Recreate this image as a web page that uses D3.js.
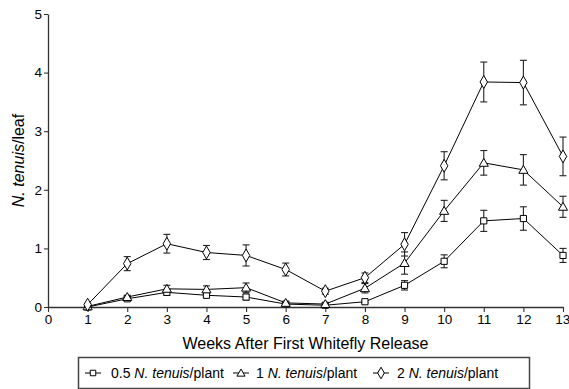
<!DOCTYPE html>
<html>
<head>
<meta charset="utf-8">
<script src="https://cdn.jsdelivr.net/npm/d3@7"></script>
<style>
  html, body { margin: 0; padding: 0; background: #fff; }
  svg { display: block; font-family: Arial, "Liberation Sans", sans-serif; }
</style>
</head>
<body>
<svg id="chart" width="569" height="389"></svg>
<script>
// Weeks after first whitefly release
const weeks = [1, 2, 3, 4, 5, 6, 7, 8, 9, 10, 11, 12, 13];

// Mean N. tenuis per leaf and standard error, by release density
const low = [0.00, 0.14, 0.25, 0.20, 0.17, 0.05, 0.03, 0.09, 0.37, 0.78, 1.47, 1.51, 0.88];
const lowErr = [0.01, 0.03, 0.05, 0.04, 0.05, 0.02, 0.02, 0.02, 0.08, 0.11, 0.18, 0.20, 0.12];
const mid = [0.01, 0.17, 0.31, 0.30, 0.33, 0.07, 0.05, 0.32, 0.75, 1.64, 2.46, 2.34, 1.71];
const midErr = [0.01, 0.03, 0.06, 0.06, 0.08, 0.02, 0.02, 0.08, 0.19, 0.18, 0.21, 0.26, 0.18];
const high = [0.04, 0.74, 1.08, 0.93, 0.88, 0.64, 0.27, 0.50, 1.07, 2.41, 3.84, 3.83, 2.57];
const highErr = [0.02, 0.12, 0.16, 0.12, 0.18, 0.11, 0.05, 0.08, 0.20, 0.24, 0.34, 0.38, 0.33];

const xTicks = [0, 1, 2, 3, 4, 5, 6, 7, 8, 9, 10, 11, 12, 13];
const yTicks = [0, 1, 2, 3, 4, 5];

const seriesNames = ["0.5", "1", "2"];
const seriesShapes = [d3.symbolSquare, d3.symbolTriangle, d3.symbolDiamond];
const seriesSizes = [38, 36, 48];

const series = [
  { name: seriesNames[0], values: low, errs: lowErr, shape: seriesShapes[0], size: seriesSizes[0] },
  { name: seriesNames[1], values: mid, errs: midErr, shape: seriesShapes[1], size: seriesSizes[1] },
  { name: seriesNames[2], values: high, errs: highErr, shape: seriesShapes[2], size: seriesSizes[2] }
];

const svg = d3.select("#chart");
const x = d3.scaleLinear().domain([0, 13]).range([48, 563]);
const y = d3.scaleLinear().domain([0, 5]).range([307, 14]);

// Axes
const xAxis = svg.append("g")
  .attr("transform", `translate(0,${y(0)})`)
  .call(d3.axisBottom(x).tickValues(xTicks).tickFormat(d3.format("d")).tickSize(5).tickSizeOuter(0).tickPadding(2));
const yAxis = svg.append("g")
  .attr("transform", `translate(${x(0)},0)`)
  .call(d3.axisLeft(y).tickValues(yTicks).tickFormat(d3.format("d")).tickSize(4).tickSizeOuter(0).tickPadding(2));

[xAxis, yAxis].forEach(a => {
  a.selectAll("path.domain").attr("stroke", "#333").attr("stroke-width", 1.3);
  a.selectAll(".tick line").attr("stroke", "#333").attr("stroke-width", 1.1);
  a.selectAll(".tick text").attr("fill", "#000").style("font-size", "13.5px")
    .style("font-family", "Arial, 'Liberation Sans', sans-serif");
});
// keep the last week label inside the frame
xAxis.selectAll(".tick text").filter(d => d === 13).attr("text-anchor", "end").attr("dx", "0.5em");

// Axis titles
svg.append("text")
  .attr("x", (x(0) + x(13)) / 2)
  .attr("y", 349)
  .attr("text-anchor", "middle")
  .style("font-size", "16px")
  .text("Weeks After First Whitefly Release");

const yTitle = svg.append("text")
  .attr("transform", `translate(24,${(y(0) + y(5)) / 2}) rotate(-90)`)
  .attr("text-anchor", "middle")
  .style("font-size", "16px");
yTitle.append("tspan").style("font-style", "italic").text("N. tenuis");
yTitle.append("tspan").text("/leaf");

// Series: lines, error bars, markers
const line = d3.line().x((d, i) => x(weeks[i])).y(d => y(d));
const capHalf = 3.5;

series.forEach(s => {
  svg.append("path")
    .datum(s.values)
    .attr("fill", "none")
    .attr("stroke", "#000")
    .attr("stroke-width", 1)
    .attr("d", line);

  const eb = svg.append("g").attr("stroke", "#222").attr("stroke-width", 1.1);
  s.values.forEach((v, i) => {
    const cx = x(weeks[i]);
    const y1 = y(v + s.errs[i]);
    const y2 = y(Math.max(0, v - s.errs[i]));
    eb.append("line").attr("x1", cx).attr("x2", cx).attr("y1", y1).attr("y2", y2);
    eb.append("line").attr("x1", cx - capHalf).attr("x2", cx + capHalf).attr("y1", y1).attr("y2", y1);
    eb.append("line").attr("x1", cx - capHalf).attr("x2", cx + capHalf).attr("y1", y2).attr("y2", y2);
  });
});

series.forEach(s => {
  svg.append("g").selectAll("path")
    .data(s.values)
    .join("path")
    .attr("transform", (d, i) => `translate(${x(weeks[i])},${y(d) + (s.shape === d3.symbolTriangle ? 0.8 : 0)})`)
    .attr("d", d3.symbol().type(s.shape).size(s.size))
    .attr("fill", "#fff")
    .attr("stroke", "#000")
    .attr("stroke-width", 1);
});

// Legend
svg.append("rect")
  .attr("x", 78.5).attr("y", 357.5)
  .attr("width", 451).attr("height", 31)
  .attr("fill", "none")
  .attr("stroke", "#444")
  .attr("stroke-width", 1.5);

const legendMarkerX = [93, 241, 381];
const legendTextX = [111, 256, 397];
const legendY = 373;

series.forEach((s, i) => {
  const g = svg.append("g");
  g.append("line")
    .attr("x1", legendMarkerX[i] - 8).attr("x2", legendMarkerX[i] + 8)
    .attr("y1", legendY).attr("y2", legendY)
    .attr("stroke", "#000").attr("stroke-width", 1);
  g.append("path")
    .attr("transform", `translate(${legendMarkerX[i]},${legendY + (s.shape === d3.symbolTriangle ? 0.8 : 0)})`)
    .attr("d", d3.symbol().type(s.shape).size(s.size * 0.8))
    .attr("fill", "#fff").attr("stroke", "#000").attr("stroke-width", 1);
  const t = g.append("text")
    .attr("x", legendTextX[i]).attr("y", legendY + 5)
    .style("font-size", "14px");
  t.append("tspan").text(s.name + " ");
  t.append("tspan").style("font-style", "italic").text("N. tenuis");
  t.append("tspan").text("/plant");
});
</script>
</body>
</html>
